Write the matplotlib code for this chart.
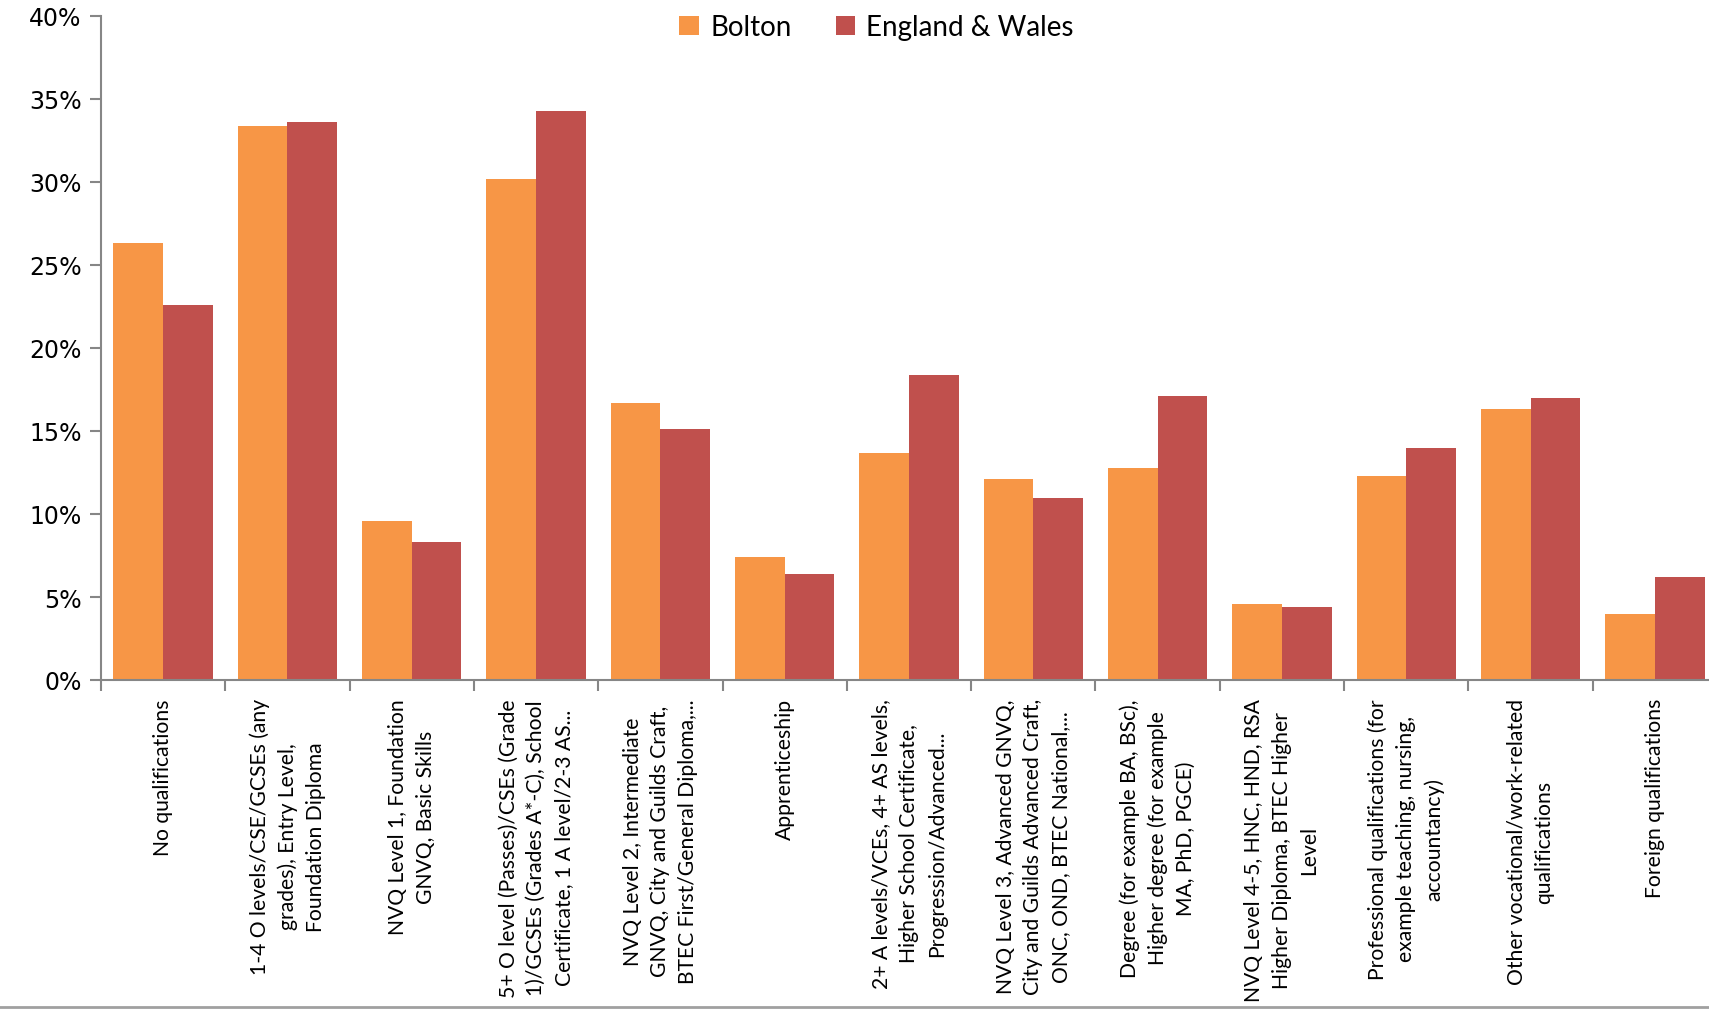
import numpy as np
import matplotlib.pyplot as plt
from matplotlib.lines import Line2D

categories = [
    "No qualifications",
    "1-4 O levels/CSE/GCSEs (any\ngrades), Entry Level,\nFoundation Diploma",
    "NVQ Level 1, Foundation\nGNVQ, Basic Skills",
    "5+ O level (Passes)/CSEs (Grade\n1)/GCSEs (Grades A*-C), School\nCertificate, 1 A level/2-3 AS...",
    "NVQ Level 2, Intermediate\nGNVQ, City and Guilds Craft,\nBTEC First/General Diploma,...",
    "Apprenticeship",
    "2+ A levels/VCEs, 4+ AS levels,\nHigher School Certificate,\nProgression/Advanced...",
    "NVQ Level 3, Advanced GNVQ,\nCity and Guilds Advanced Craft,\nONC, OND, BTEC National,...",
    "Degree (for example BA, BSc),\nHigher degree (for example\nMA, PhD, PGCE)",
    "NVQ Level 4-5, HNC, HND, RSA\nHigher Diploma, BTEC Higher\nLevel",
    "Professional qualifications (for\nexample teaching, nursing,\naccountancy)",
    "Other vocational/work-related\nqualifications",
    "Foreign qualifications",
]
bolton = [26.3, 33.4, 9.6, 30.2, 16.7, 7.4, 13.7, 12.1, 12.8, 4.6, 12.3, 16.3, 4.0]
england_wales = [22.6, 33.6, 8.3, 34.3, 15.1, 6.4, 18.4, 10.95, 17.1, 4.4, 14.0, 17.0, 6.2]
yticks = [0, 5, 10, 15, 20, 25, 30, 35, 40]

W, H = 1709, 1012
fig = plt.figure(figsize=(W / 100, H / 100), dpi=100)
ax = fig.add_axes([101 / W, 1 - 681 / H, (1717 - 101) / W, (681 - 17) / H])

x = np.arange(len(categories))
bw = 0.4
ax.bar(x - bw / 2, bolton, bw, color='#F79646', label='Bolton')
ax.bar(x + bw / 2, england_wales, bw, color='#C0504D', label='England & Wales')

ax.set_xlim(-0.5, len(categories) - 0.5)
ax.set_ylim(0, 40)
ax.set_yticks(yticks)
ax.set_yticklabels([f"{v}%" for v in yticks], fontsize=17, family='DejaVu Sans')

ax.set_xticks(x)
ax.set_xticklabels(categories, rotation=90, fontsize=15.2, family='Lato',
                   ha='center', va='top', multialignment='center', linespacing=1.48)
ax.set_xticks(np.arange(len(categories) + 1) - 0.5, minor=True)
ax.tick_params(axis='x', which='major', length=0, pad=13)
ax.tick_params(axis='x', which='minor', length=8, color='#868686', width=1.5)
ax.tick_params(axis='y', length=8, color='#868686', width=1.5, pad=6)

for s in ['top', 'right']:
    ax.spines[s].set_visible(False)
for s in ['left', 'bottom']:
    ax.spines[s].set_color('#868686')
    ax.spines[s].set_linewidth(1.5)

ax.legend(loc='upper center', bbox_to_anchor=(0.48, 1.04), ncol=2, frameon=False,
          prop={'family': 'Lato', 'size': 20}, handlelength=0.7, handleheight=0.7,
          columnspacing=1.6, handletextpad=0.4)

fig.add_artist(Line2D([0, 1], [1 - 1008 / H, 1 - 1008 / H], color='#A0A0A0', lw=2,
                      transform=fig.transFigure))

fig.savefig('out.png', dpi=100)
